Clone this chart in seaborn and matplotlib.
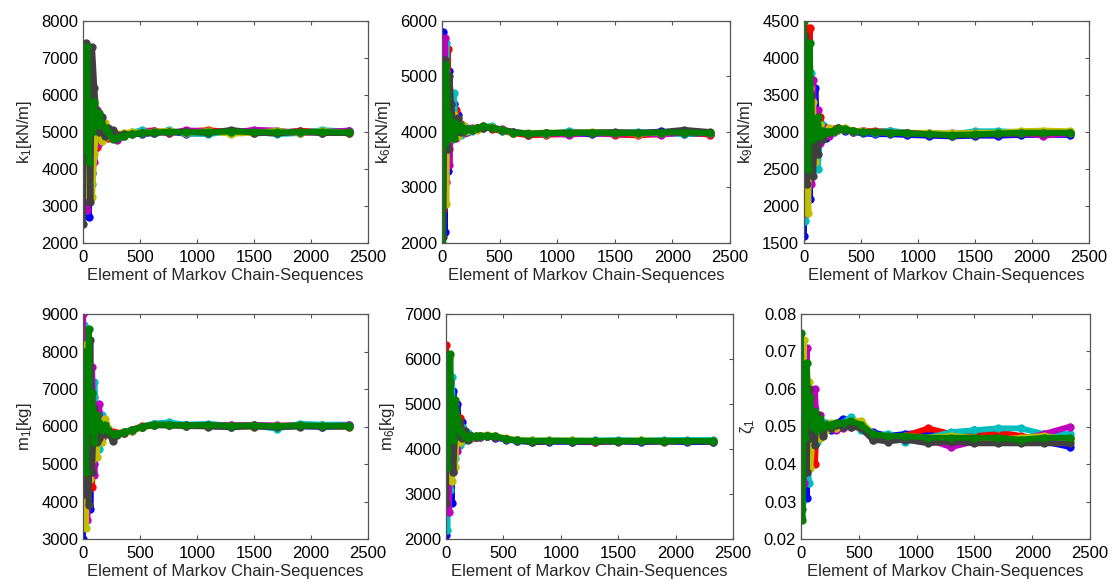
import matplotlib
matplotlib.use("Agg")
import matplotlib.pyplot as plt
import seaborn as sns
import pandas as pd
from matplotlib.ticker import FormatStrFormatter

# ---------------- data ----------------
X = [0, 12, 25, 38, 50, 65, 80, 100, 120, 140, 165, 190, 220, 260, 300, 360,
     430, 520, 620, 750, 900, 1100, 1300, 1500, 1700, 1900, 2100, 2330]

CHAINS = ["blue", "red", "cyan", "magenta", "olive", "gray", "green"]
COLORS = ["#0000ff", "#ff0000", "#00bfbf", "#bf00bf", "#bfbf00", "#404040", "#008000"]

K1_BLUE = [4300, 6900, 3100, 5800, 2700, 4700, 3900, 4500, 5000, 5300, 4900, 5100, 4950, 4900, 4920, 4950, 4960, 4940, 4970, 5010, 4950, 4980, 5030, 4960, 4990, 5020, 4980, 5030]
K1_RED = [6200, 4000, 6100, 3500, 5200, 6200, 4200, 5600, 4600, 5200, 5000, 5150, 4850, 4950, 4900, 4930, 4960, 5030, 5040, 4970, 5020, 5050, 5000, 5040, 4970, 5030, 5010, 4980]
K1_CYAN = [5000, 7200, 2900, 4600, 7250, 5400, 3600, 5500, 4800, 5100, 5300, 5000, 5050, 4950, 4880, 4920, 4990, 5050, 4960, 5050, 4960, 4940, 5020, 5010, 4940, 4970, 5050, 5010]
K1_MAGENTA = [3700, 5500, 6500, 2900, 4400, 6400, 4800, 4200, 5600, 4700, 5100, 4950, 5000, 4850, 4780, 4880, 4970, 4980, 5030, 4960, 5050, 5010, 4980, 5060, 5040, 4970, 5000, 5040]
K1_OLIVE = [7200, 3300, 4900, 6700, 3500, 4400, 3250, 4400, 5300, 4900, 4750, 5250, 4900, 5000, 4950, 4960, 5010, 4970, 5010, 5030, 4980, 5020, 4950, 4980, 5030, 4970, 5020, 4980]
K1_GRAY = [2500, 5800, 7400, 5100, 6000, 3100, 7300, 6200, 5400, 5000, 5400, 4900, 5100, 5050, 4920, 4940, 4940, 4960, 4970, 5000, 5010, 4970, 5060, 4980, 4960, 5000, 4970, 4970]
K1_GREEN = [6600, 4500, 5600, 7300, 4200, 5700, 5000, 5800, 5200, 5500, 5200, 5100, 5000, 4800, 4850, 4900, 4950, 4980, 4990, 5000, 4990, 5000, 5010, 5000, 4990, 5000, 5000, 4990]

K6_BLUE = [3000, 5800, 2200, 4800, 3300, 5100, 4100, 4500, 3950, 4300, 4000, 4100, 4000, 4030, 4060, 4080, 4070, 4040, 3990, 3950, 3990, 3970, 3960, 3990, 3970, 4010, 3970, 3960]
K6_RED = [5500, 2600, 4600, 3600, 5500, 3700, 4700, 3900, 4400, 4000, 4150, 3980, 4050, 4060, 4080, 4100, 4060, 4010, 3980, 3940, 3950, 3960, 3990, 3950, 3940, 3960, 3990, 3950]
K6_CYAN = [4200, 5300, 3300, 5600, 4000, 4500, 3850, 4700, 4100, 4200, 3950, 4050, 4080, 4020, 4050, 4090, 4110, 4020, 4000, 3980, 3970, 4010, 3990, 3980, 4000, 3980, 3960, 3990]
K6_MAGENTA = [2400, 4800, 5700, 3100, 4600, 3400, 4300, 4000, 3900, 4150, 4100, 4000, 4050, 4070, 4060, 4090, 4080, 4050, 4000, 3970, 3980, 3950, 3980, 3960, 3980, 3950, 3990, 3970]
K6_OLIVE = [5200, 3600, 4900, 2700, 5000, 4800, 3900, 4300, 4200, 3920, 4050, 4100, 4020, 4050, 4040, 4070, 4090, 4030, 3990, 3980, 3990, 3990, 4000, 3990, 3970, 3990, 4010, 3990]
K6_GRAY = [4600, 2100, 5300, 4200, 3700, 5000, 4500, 4100, 4000, 4250, 4000, 4050, 4060, 4040, 4070, 4080, 4070, 4040, 4000, 3970, 3980, 3990, 3990, 4000, 3990, 4000, 4040, 4000]
K6_GREEN = [2000, 4400, 3800, 5200, 4300, 3900, 4200, 3900, 4150, 4050, 4100, 4020, 4060, 4050, 4070, 4100, 4080, 4040, 3990, 3970, 3980, 3980, 3990, 3980, 3980, 3990, 3990, 3980]

K9_BLUE = [1600, 3900, 2600, 4100, 2100, 3400, 2700, 3600, 2900, 3000, 2950, 2920, 2980, 3000, 3030, 3020, 3000, 2980, 2970, 2970, 2960, 2950, 2940, 2950, 2950, 2960, 2960, 2960]
K9_RED = [3800, 2400, 4400, 2900, 4400, 2600, 3200, 2800, 3100, 3200, 3050, 3020, 3000, 3040, 3050, 3040, 3010, 3020, 3010, 3010, 2990, 2980, 2970, 2980, 2990, 2980, 2990, 2980]
K9_CYAN = [3100, 1800, 3600, 3300, 2500, 3800, 2600, 3300, 2500, 2900, 3100, 3050, 3020, 3000, 3040, 3030, 3000, 3000, 2990, 3020, 2990, 2980, 2970, 3010, 3010, 3000, 2990, 2990]
K9_MAGENTA = [2200, 3400, 1900, 4000, 3100, 2300, 3700, 2700, 3300, 2850, 2950, 3050, 2950, 3020, 3060, 3040, 3000, 3010, 3000, 2990, 2980, 2970, 2980, 2980, 2970, 2980, 2950, 2980]
K9_OLIVE = [4200, 2700, 3100, 1900, 3600, 2900, 3400, 2600, 2900, 3100, 3000, 2980, 3050, 3010, 3030, 3050, 3020, 3010, 3000, 2990, 2990, 2990, 2980, 2990, 2990, 3010, 3020, 3010]
K9_GRAY = [2600, 4300, 2300, 3000, 2700, 3500, 2400, 3100, 2700, 3000, 2900, 3000, 3000, 3020, 3040, 3030, 3010, 3000, 3000, 2990, 2990, 2970, 2950, 2960, 2970, 2980, 2980, 2990]
K9_GREEN = [4500, 3000, 3500, 2500, 4200, 3100, 2900, 3000, 3200, 2950, 3020, 2990, 3000, 3020, 3050, 3040, 3010, 3000, 3000, 2990, 2980, 2970, 2960, 2970, 2980, 2990, 2990, 2990]

M1_BLUE = [3000, 7300, 5500, 4400, 7600, 3800, 6600, 5000, 6500, 5800, 6100, 5900, 5850, 5780, 5790, 5840, 5900, 5990, 6040, 6030, 6020, 6010, 5990, 6040, 5990, 6010, 5990, 6010]
M1_RED = [6900, 3600, 8000, 6000, 4500, 7000, 4400, 6800, 5500, 6300, 5700, 6100, 5900, 5850, 5820, 5850, 5920, 6010, 6060, 6070, 6040, 6050, 6030, 6020, 6010, 6040, 6030, 6030]
M1_CYAN = [5800, 8700, 4200, 7400, 5200, 6200, 5700, 7200, 5900, 5400, 6300, 5950, 5800, 5760, 5800, 5860, 5910, 6000, 6080, 6110, 6050, 6070, 6020, 6020, 5940, 6070, 6050, 6050]
M1_MAGENTA = [9000, 5100, 6600, 3500, 8300, 5500, 7600, 4700, 6100, 6600, 5800, 6000, 5880, 5800, 5810, 5830, 5890, 5990, 6040, 6050, 6030, 6030, 6030, 6040, 6030, 6020, 6010, 6030]
M1_OLIVE = [4500, 6300, 3300, 8200, 6100, 4600, 5100, 6000, 5200, 6000, 5600, 6200, 5950, 5700, 5790, 5820, 5880, 5980, 6030, 6040, 6010, 6020, 6010, 6000, 6020, 6010, 6020, 5990]
M1_GRAY = [7900, 4200, 7000, 5700, 3900, 8300, 4800, 6500, 5600, 5700, 6000, 5800, 5850, 5620, 5780, 5830, 5900, 5990, 6030, 6030, 6010, 6000, 5980, 6000, 5980, 6000, 6000, 5990]
M1_GREEN = [5200, 8000, 4800, 6700, 8600, 5900, 6900, 5600, 6300, 6100, 5900, 6050, 5900, 5800, 5810, 5850, 5900, 6000, 6050, 6050, 6030, 6040, 6020, 6030, 6010, 6030, 6020, 6020]

M6_BLUE = [2100, 5800, 3200, 4700, 2800, 5300, 4100, 5000, 4300, 4600, 4400, 4300, 4280, 4270, 4270, 4280, 4250, 4210, 4180, 4150, 4160, 4160, 4150, 4170, 4150, 4170, 4150, 4160]
M6_RED = [6300, 3000, 5400, 3600, 4900, 3900, 4800, 4200, 4700, 4200, 4350, 4250, 4300, 4260, 4290, 4300, 4270, 4230, 4190, 4170, 4170, 4180, 4160, 4180, 4170, 4170, 4180, 4170]
M6_CYAN = [4000, 2200, 5000, 3100, 5600, 4500, 3800, 4400, 4100, 4500, 4200, 4350, 4260, 4290, 4280, 4300, 4280, 4220, 4200, 4190, 4200, 4190, 4190, 4200, 4190, 4200, 4200, 4200]
M6_MAGENTA = [5200, 4300, 2600, 5500, 3900, 3500, 5000, 3950, 4500, 4300, 4250, 4280, 4250, 4280, 4270, 4290, 4260, 4220, 4190, 4170, 4180, 4170, 4180, 4170, 4180, 4180, 4170, 4180]
M6_OLIVE = [3300, 4800, 6000, 4100, 3300, 4900, 3600, 4600, 4150, 4400, 4300, 4230, 4270, 4290, 4290, 4310, 4290, 4240, 4200, 4190, 4190, 4190, 4180, 4180, 4190, 4180, 4180, 4180]
M6_GRAY = [2800, 6000, 3800, 5000, 4300, 3500, 4400, 4300, 4600, 4250, 4400, 4200, 4300, 4270, 4280, 4290, 4270, 4230, 4180, 4160, 4170, 4160, 4170, 4160, 4170, 4160, 4170, 4160]
M6_GREEN = [5700, 3600, 4500, 6100, 4500, 4200, 5100, 4700, 4400, 4350, 4300, 4250, 4290, 4280, 4290, 4300, 4280, 4220, 4190, 4180, 4180, 4180, 4180, 4180, 4180, 4180, 4180, 4180]

Z1_BLUE = [0.026, 0.068, 0.045, 0.058, 0.031, 0.055, 0.043, 0.052, 0.047, 0.050, 0.049, 0.051, 0.050, 0.049, 0.0505, 0.052, 0.0515, 0.050, 0.0485, 0.0475, 0.048, 0.0485, 0.048, 0.049, 0.048, 0.047, 0.046, 0.0445]
Z1_RED = [0.062, 0.040, 0.066, 0.036, 0.058, 0.047, 0.055, 0.044, 0.040, 0.052, 0.048, 0.050, 0.0495, 0.0505, 0.050, 0.0505, 0.051, 0.0505, 0.047, 0.0465, 0.0475, 0.0495, 0.048, 0.0475, 0.0485, 0.0475, 0.0465, 0.047]
Z1_CYAN = [0.048, 0.030, 0.056, 0.070, 0.042, 0.035, 0.060, 0.049, 0.055, 0.046, 0.051, 0.049, 0.051, 0.0495, 0.0505, 0.051, 0.0525, 0.049, 0.0475, 0.048, 0.046, 0.047, 0.0485, 0.049, 0.0495, 0.0495, 0.048, 0.048]
Z1_MAGENTA = [0.070, 0.050, 0.035, 0.063, 0.071, 0.044, 0.050, 0.058, 0.060, 0.048, 0.053, 0.048, 0.0505, 0.050, 0.049, 0.0495, 0.050, 0.0505, 0.0465, 0.047, 0.047, 0.0465, 0.0445, 0.046, 0.047, 0.0465, 0.048, 0.050]
Z1_OLIVE = [0.034, 0.059, 0.073, 0.041, 0.050, 0.062, 0.039, 0.046, 0.052, 0.051, 0.047, 0.0505, 0.049, 0.051, 0.0495, 0.051, 0.0515, 0.0515, 0.048, 0.0465, 0.0475, 0.047, 0.0475, 0.047, 0.0465, 0.047, 0.0475, 0.0465]
Z1_GRAY = [0.055, 0.028, 0.052, 0.066, 0.038, 0.060, 0.047, 0.054, 0.045, 0.053, 0.050, 0.0475, 0.0505, 0.0495, 0.0505, 0.050, 0.050, 0.0495, 0.0465, 0.046, 0.0465, 0.0455, 0.046, 0.0455, 0.0455, 0.0455, 0.0455, 0.0455]
Z1_GREEN = [0.075, 0.025, 0.064, 0.047, 0.067, 0.053, 0.058, 0.050, 0.054, 0.049, 0.052, 0.050, 0.0505, 0.0505, 0.051, 0.051, 0.0515, 0.0505, 0.048, 0.0475, 0.0475, 0.047, 0.047, 0.047, 0.047, 0.0465, 0.047, 0.047]

X_TICKS = [0, 500, 1000, 1500, 2000, 2500]
X_LABEL = "Element of Markov Chain-Sequences"

PANELS = [
    ("k$_1$[kN/m]", [K1_BLUE, K1_RED, K1_CYAN, K1_MAGENTA, K1_OLIVE, K1_GRAY, K1_GREEN],
     [2000, 3000, 4000, 5000, 6000, 7000, 8000], "%d"),
    ("k$_6$[kN/m]", [K6_BLUE, K6_RED, K6_CYAN, K6_MAGENTA, K6_OLIVE, K6_GRAY, K6_GREEN],
     [2000, 3000, 4000, 5000, 6000], "%d"),
    ("k$_9$[kN/m]", [K9_BLUE, K9_RED, K9_CYAN, K9_MAGENTA, K9_OLIVE, K9_GRAY, K9_GREEN],
     [1500, 2000, 2500, 3000, 3500, 4000, 4500], "%d"),
    ("m$_1$[kg]", [M1_BLUE, M1_RED, M1_CYAN, M1_MAGENTA, M1_OLIVE, M1_GRAY, M1_GREEN],
     [3000, 4000, 5000, 6000, 7000, 8000, 9000], "%d"),
    ("m$_6$[kg]", [M6_BLUE, M6_RED, M6_CYAN, M6_MAGENTA, M6_OLIVE, M6_GRAY, M6_GREEN],
     [2000, 3000, 4000, 5000, 6000, 7000], "%d"),
    ("ζ$_1$", [Z1_BLUE, Z1_RED, Z1_CYAN, Z1_MAGENTA, Z1_OLIVE, Z1_GRAY, Z1_GREEN],
     [0.02, 0.03, 0.04, 0.05, 0.06, 0.07, 0.08], "%.2f"),
]

# ---------------- layout (pixels of a 1114x584 canvas) ----------------
W, H = 1114, 584
BOXES = [  # left, top, right, bottom
    (83, 21, 368, 243), (442, 21, 730, 243), (804, 21, 1089, 243),
    (83, 314, 368, 539), (446, 314, 733, 539), (801, 314, 1090, 539),
]

sns.set_theme(style="white")
plt.rcParams["font.family"] = ["Liberation Sans", "DejaVu Sans"]
plt.rcParams["mathtext.default"] = "regular"

fig = plt.figure(figsize=(W / 100, H / 100), dpi=100)
fig.patch.set_facecolor("white")

FS = 12
for (ylabel, series, yticks, fmt), (l, t, r, b) in zip(PANELS, BOXES):
    ax = fig.add_axes([l / W, 1 - b / H, (r - l) / W, (b - t) / H])
    rows = []
    for name, ys in zip(CHAINS, series):
        for xv, yv in zip(X, ys):
            rows.append((xv, yv, name))
    df = pd.DataFrame(rows, columns=["x", "y", "chain"])
    sns.lineplot(data=df, x="x", y="y", hue="chain", hue_order=CHAINS,
                 palette=dict(zip(CHAINS, COLORS)), estimator=None, sort=False,
                 units="chain", linewidth=4.2, marker="o", markersize=6,
                 markeredgewidth=0, legend=False, ax=ax)
    ax.set_xlim(0, 2500)
    ax.set_ylim(yticks[0], yticks[-1])
    ax.set_xticks(X_TICKS)
    ax.set_yticks(yticks)
    ax.yaxis.set_major_formatter(FormatStrFormatter(fmt))
    ax.set_xlabel(X_LABEL, fontsize=FS, labelpad=2)
    ax.set_ylabel(ylabel, fontsize=FS, labelpad=5)
    ax.tick_params(axis="both", which="both", direction="in", length=3,
                   width=0.8, color="#555555", labelsize=FS,
                   top=True, right=True, bottom=True, left=True,
                   labelcolor="black")
    ax.tick_params(axis="x", pad=5)
    ax.tick_params(axis="y", pad=3.5)
    for sp in ax.spines.values():
        sp.set_color("#555555")
        sp.set_linewidth(0.9)
    ax.set_facecolor("white")
    ax.grid(False)

fig.savefig("out.png", dpi=100, facecolor="white")
